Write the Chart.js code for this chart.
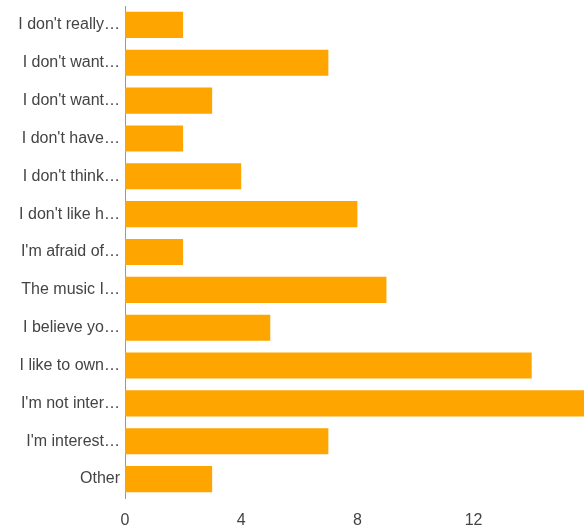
<!DOCTYPE html>
<html>
<head>
<meta charset="utf-8">
<script src="https://cdn.jsdelivr.net/npm/chart.js@4"></script>
<style>
  html, body { margin: 0; padding: 0; background: #fff; }
  #wrap { width: 584px; height: 528px; position: relative; }
</style>
</head>
<body>
<div id="wrap"><canvas id="chart"></canvas></div>
<script>
// answers (labels truncated as in the original)
var categories = [
    "I don't really\u2026",
    "I don't want\u2026",
    "I don't want\u2026",
    "I don't have\u2026",
    "I don't think\u2026",
    "I don't like h\u2026",
    "I'm afraid of\u2026",
    "The music I\u2026",
    "I believe yo\u2026",
    "I like to own\u2026",
    "I'm not inter\u2026",
    "I'm interest\u2026",
    "Other"
];
var counts = [2, 7, 3, 2, 4, 8, 2, 9, 5, 14, 16, 7, 3];
var xTicks = [0, 4, 8, 12];

var ctx = document.getElementById('chart').getContext('2d');
var chart = new Chart(ctx, {
    type: 'bar',
    data: {
        labels: categories,
        datasets: [{
            data: counts,
            backgroundColor: '#ffa500',
            borderWidth: 0,
            barPercentage: 0.69,
            categoryPercentage: 1
        }]
    },
    options: {
        indexAxis: 'y',
        responsive: true,
        maintainAspectRatio: false,
        animation: false,
        layout: { padding: { top: 6, right: 0, bottom: 0, left: 0 } },
        plugins: {
            legend: { display: false },
            tooltip: { enabled: false }
        },
        scales: {
            x: {
                min: 0,
                max: 15.8,
                afterBuildTicks: function (scale) {
                    scale.ticks = xTicks.map(function (v) { return { value: v }; });
                },
                afterFit: function (scale) { scale.height = 30; },
                grid: { display: false, drawTicks: false },
                border: { display: false },
                ticks: {
                    padding: 13,
                    color: '#444',
                    font: { family: 'Liberation Sans, Arial', size: 16 }
                }
            },
            y: {
                afterFit: function (scale) {
                    scale.width = 125;
                    scale.paddingTop = 0;
                    scale.paddingBottom = 0;
                },
                grid: { display: false, drawTicks: false },
                border: { display: true, color: '#999', width: 1 },
                ticks: {
                    padding: 5,
                    color: '#444',
                    autoSkip: false,
                    font: { family: 'Liberation Sans, Arial', size: 16 }
                }
            }
        }
    }
});
</script>
</body>
</html>
